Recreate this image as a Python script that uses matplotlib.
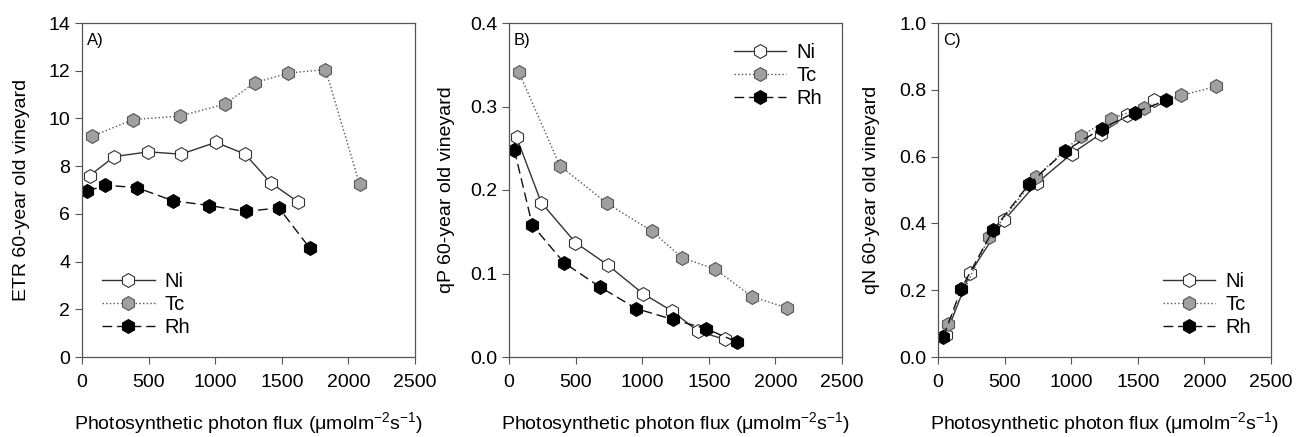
import matplotlib.pyplot as plt

plt.rcParams['font.family'] = ['Liberation Sans', 'DejaVu Sans']
plt.rcParams['mathtext.default'] = 'regular'

# Photon flux levels for each treatment
x_ni = [57, 242, 499, 743, 1005, 1225, 1417, 1622]
x_tc = [75, 382, 736, 1071, 1299, 1549, 1828, 2084]
x_rh = [40, 175, 412, 682, 955, 1228, 1478, 1712]

# A) ETR
etr_ni = [7.6, 8.4, 8.6, 8.5, 9.0, 8.5, 7.3, 6.5]
etr_tc = [9.25, 9.95, 10.1, 10.6, 11.5, 11.9, 12.05, 7.25]
etr_rh = [6.95, 7.2, 7.1, 6.55, 6.35, 6.1, 6.25, 4.55]

# B) qP
qp_ni = [0.263, 0.185, 0.137, 0.110, 0.076, 0.055, 0.031, 0.021]
qp_tc = [0.341, 0.229, 0.184, 0.151, 0.119, 0.105, 0.072, 0.059]
qp_rh = [0.248, 0.158, 0.113, 0.084, 0.058, 0.045, 0.034, 0.018]

# C) qN
qn_ni = [0.065, 0.252, 0.411, 0.521, 0.609, 0.669, 0.724, 0.768]
qn_tc = [0.098, 0.359, 0.539, 0.662, 0.714, 0.747, 0.783, 0.810]
qn_rh = [0.060, 0.205, 0.379, 0.517, 0.617, 0.684, 0.732, 0.768]

panels = [
    ('A)', 'ETR 60-year old vineyard', (etr_ni, etr_tc, etr_rh), (0, 14), range(0, 15, 2), 'lower left', '{:.0f}', -0.157),
    ('B)', 'qP 60-year old vineyard', (qp_ni, qp_tc, qp_rh), (0, 0.4), [0, 0.1, 0.2, 0.3, 0.4], 'upper right', '{:.1f}', -0.162),
    ('C)', 'qN 60-year old vineyard', (qn_ni, qn_tc, qn_rh), (0, 1.0), [0, 0.2, 0.4, 0.6, 0.8, 1.0], 'lower right', '{:.1f}', -0.174),
]

styles = [
    dict(label='Ni', ls='-', color='#333333', mfc='white', mec='#333333'),
    dict(label='Tc', ls=':', color='#555555', mfc='#a0a0a0', mec='#555555'),
    dict(label='Rh', ls=(0, (7, 3.5)), color='#111111', mfc='black', mec='black'),
]

fig = plt.figure(figsize=(12.97, 4.37), dpi=100)
lefts = [82, 509, 938]
W, H = 1297, 437
for (tag, ylab, ys, ylim, yticks, loc, fmt, ylab_x), left in zip(panels, lefts):
    ax = fig.add_axes([left / W, (H - 357) / H, 333 / W, (357 - 23) / H])
    for xs, yv, st in zip((x_ni, x_tc, x_rh), ys, styles):
        ax.plot(xs, yv, marker='h', ms=10, lw=1.0, mew=0.8, **st)
    ax.set_xlim(0, 2500)
    ax.set_ylim(*ylim)
    ax.set_xticks([0, 500, 1000, 1500, 2000, 2500])
    ax.set_yticks(list(yticks))
    ax.set_yticklabels([fmt.format(v) for v in yticks])
    ax.tick_params(axis='x', pad=7)
    ax.tick_params(direction='out', length=5, width=0.8, color='#555555',
                   labelsize=14, top=False, right=False)
    for sp in ax.spines.values():
        sp.set_color('#555555')
        sp.set_linewidth(0.9)
    ax.set_ylabel(ylab, fontsize=14)
    ax.yaxis.set_label_coords(ylab_x, 0.5)
    ax.set_xlabel('Photosynthetic photon flux (μmolm$^{-2}$s$^{-1}$)', fontsize=14, labelpad=14)
    ax.text(0.015, 0.97, tag, transform=ax.transAxes, fontsize=12, va='top', ha='left')
    ax.legend(loc=loc, frameon=False, fontsize=14.5, handlelength=2.6,
              handletextpad=0.5, labelspacing=0.2, borderaxespad=0.6)

fig.savefig('out.png', dpi=100)
